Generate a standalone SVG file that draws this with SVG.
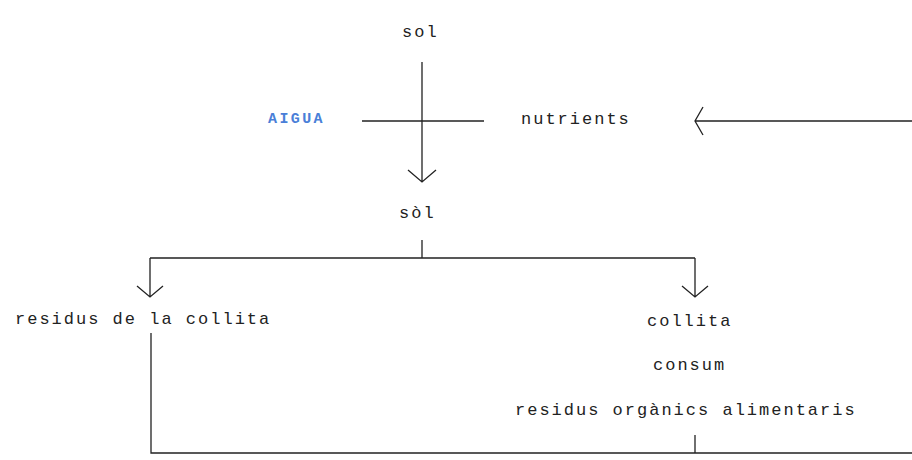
<svg xmlns="http://www.w3.org/2000/svg" width="912" height="460" viewBox="0 0 912 460">
<style>
.t{font-family:"Liberation Mono","DejaVu Sans Mono",monospace;font-size:17px;letter-spacing:2px;fill:#222}
.b{font-family:"Liberation Mono","DejaVu Sans Mono",monospace;font-size:15px;font-weight:bold;letter-spacing:2.4px;fill:#4a7fd8}
.l{stroke:#222;stroke-width:1.3;fill:none}
</style>
<rect width="912" height="460" fill="#fff"/>
<g id="sol1"><text class="t" x="402" y="37">sol</text></g>
<g id="aigua"><text class="b" x="268" y="123">AIGUA</text></g>
<g id="nutrients"><text class="t" x="521" y="124">nutrients</text></g>
<g id="sol2"><text class="t" x="399" y="218">sòl</text></g>
<g id="residus-collita"><text class="t" x="15" y="324">residus de la collita</text></g>
<g id="collita"><text class="t" x="647" y="326">collita</text></g>
<g id="consum"><text class="t" x="653" y="370">consum</text></g>
<g id="residus-organics"><text class="t" x="515" y="415">residus orgànics alimentaris</text></g>
<g id="connectors">
<path class="l" d="M422 62V182M408 170L422 182L436 170"/>
<path class="l" d="M362 121H484"/>
<path class="l" d="M912 121H695M703 107L695 121L703 135"/>
<path class="l" d="M422 240V258M150 258H695"/>
<path class="l" d="M150 258V297M137 286L150 297L163 286"/>
<path class="l" d="M695 258V297M682 286L695 297L708 286"/>
<path class="l" d="M151 333V453H912"/>
<path class="l" d="M695 435V453"/>
</g>
</svg>
